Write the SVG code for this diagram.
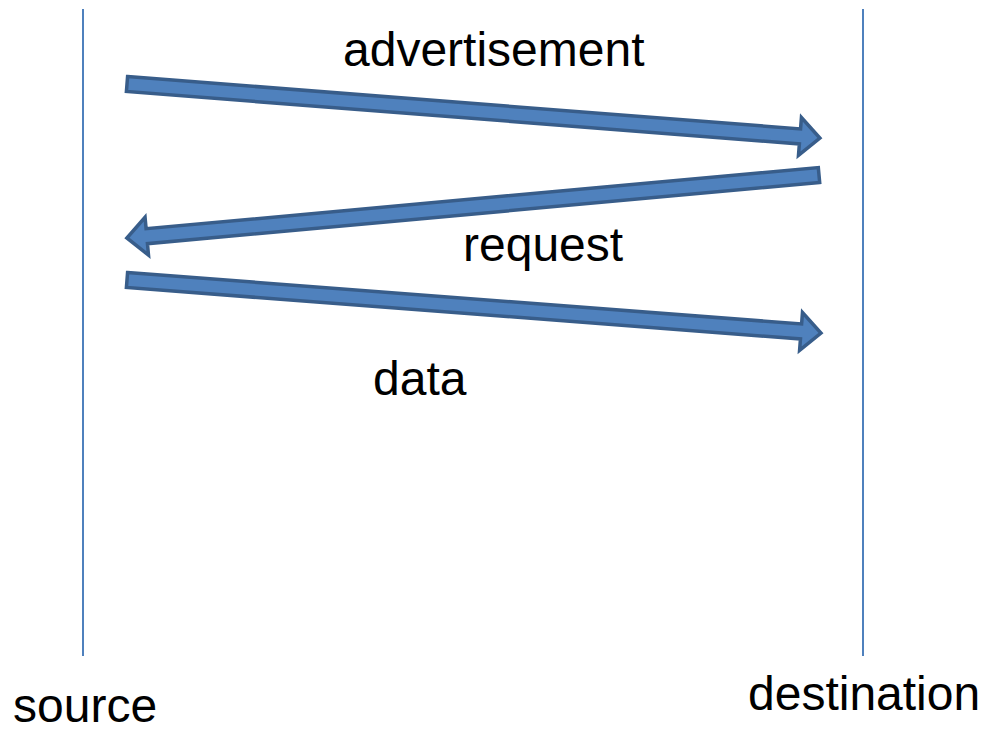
<svg xmlns="http://www.w3.org/2000/svg" width="984" height="732" viewBox="0 0 984 732">
  <style>
    .life { stroke: #4F81BD; stroke-width: 2; fill: none; }
    .msg { fill: #4F81BD; stroke: #385D8A; stroke-width: 3.5; stroke-linejoin: miter; }
    .lbl { font-family: "Liberation Sans", Arial, sans-serif; font-size: 48px; fill: #000; }
  </style>
  <rect width="984" height="732" fill="#fff"/>

  <g id="source">
    <line class="life" x1="83" y1="9" x2="83" y2="656"/>
    <text class="lbl" x="13" y="722">source</text>
  </g>
  <g id="destination">
    <line class="life" x1="863" y1="9" x2="863" y2="656"/>
    <text class="lbl" x="748" y="710">destination</text>
  </g>

  <g id="connectors">
    <!-- advertisement: source to destination -->
    <g transform="translate(127,84) rotate(4.456)">
      <polygon class="msg" points="0,-7.5 675,-7.5 675,-19 695,0 675,19 675,7.5 0,7.5"/>
    </g>
    <!-- request: destination to source -->
    <g transform="translate(819,175) rotate(174.8)">
      <polygon class="msg" points="0,-7.5 675,-7.5 675,-19 695,0 675,19 675,7.5 0,7.5"/>
    </g>
    <!-- data: source to destination -->
    <g transform="translate(127,280) rotate(4.367)">
      <polygon class="msg" points="0,-7.5 676,-7.5 676,-19 696,0 676,19 676,7.5 0,7.5"/>
    </g>
  </g>

  <g id="labels">
    <text class="lbl" x="343" y="66">advertisement</text>
    <text class="lbl" x="463" y="261">request</text>
    <text class="lbl" x="373" y="395">data</text>
  </g>
</svg>
